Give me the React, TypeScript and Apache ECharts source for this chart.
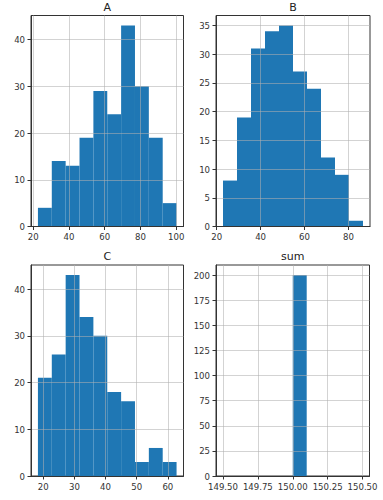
import React, { useEffect, useRef } from "react";
import * as echarts from "echarts";

// Histogram counts (10 bins each) and the data range they span
const A_COUNTS = [4, 14, 13, 19, 29, 24, 43, 30, 19, 5];
const A_RANGE = [22.6, 100.2];
const B_COUNTS = [8, 19, 31, 34, 35, 27, 24, 12, 9, 1];
const B_RANGE = [22.9, 86.6];
const C_COUNTS = [21, 26, 43, 34, 30, 18, 16, 3, 6, 3];
const C_RANGE = [18.3, 62.8];
const SUM_COUNTS = [0, 0, 0, 0, 0, 200, 0, 0, 0, 0];
const SUM_RANGE = [149.5, 150.5];

// Tick labels
const A_XTICKS = [20, 40, 60, 80, 100];
const A_YTICKS = [0, 10, 20, 30, 40];
const B_XTICKS = [20, 40, 60, 80];
const B_YTICKS = [0, 5, 10, 15, 20, 25, 30, 35];
const C_XTICKS = [20, 30, 40, 50, 60];
const C_YTICKS = [0, 10, 20, 30, 40];
const SUM_XTICKS = [149.5, 149.75, 150.0, 150.25, 150.5];
const SUM_YTICKS = [0, 25, 50, 75, 100, 125, 150, 175, 200];

const TITLES = ["A", "B", "C", "sum"];

function bins(counts: number[], range: number[]) {
  const w = (range[1] - range[0]) / counts.length;
  return counts.map((c, i) => [range[0] + i * w, range[0] + (i + 1) * w, c]);
}

function limits(range: number[], counts: number[]) {
  const span = range[1] - range[0];
  const maxC = Math.max(...counts);
  return {
    xmin: range[0] - span * 0.05,
    xmax: range[1] + span * 0.05,
    ymax: maxC * 1.05,
  };
}

export default function App() {
  const ref = useRef<HTMLDivElement>(null);
  useEffect(() => {
    if (!ref.current) return;
    const chart = echarts.init(ref.current, null, { renderer: "svg" });
    const panels = [
      { counts: A_COUNTS, range: A_RANGE, xt: A_XTICKS, yt: A_YTICKS, grid: { left: 31, top: 15.5, width: 152.5, height: 211 }, fmt: (v: number) => String(v) },
      { counts: B_COUNTS, range: B_RANGE, xt: B_XTICKS, yt: B_YTICKS, grid: { left: 216, top: 15.5, width: 154, height: 211 }, fmt: (v: number) => String(v) },
      { counts: C_COUNTS, range: C_RANGE, xt: C_XTICKS, yt: C_YTICKS, grid: { left: 31, top: 265, width: 152.5, height: 211 }, fmt: (v: number) => String(v) },
      { counts: SUM_COUNTS, range: SUM_RANGE, xt: SUM_XTICKS, yt: SUM_YTICKS, grid: { left: 216, top: 265, width: 153.5, height: 211 }, fmt: (v: number) => v.toFixed(2) },
    ];
    const gridLine = { show: true, lineStyle: { color: "#b0b0b0", width: 0.8, opacity: 0.7 } };
    const labelStyle = { color: "#333", fontSize: 9.5, fontFamily: "'DejaVu Sans Condensed', 'Liberation Sans', sans-serif" };
    const option: any = {
      animation: false,
      backgroundColor: "#fff",
      title: panels.map((p, i) => ({
        text: TITLES[i],
        left: p.grid.left + p.grid.width / 2,
        top: i < 2 ? 2 : 251,
        textAlign: "center",
        padding: 0,
        textStyle: { fontSize: 11, fontWeight: "normal", color: "#222", fontFamily: "DejaVu Sans" },
      })),
      grid: panels.map((p) => ({ ...p.grid, show: true, borderColor: "#333", borderWidth: 1, backgroundColor: "transparent" })),
      xAxis: panels.map((p, i) => {
        const l = limits(p.range, p.counts);
        return {
          type: "value",
          gridIndex: i,
          min: l.xmin,
          max: l.xmax,
          z: 5,
          axisLine: { show: true, onZero: false, lineStyle: { color: "#333", width: 1 } },
          axisTick: { show: true, length: 3.5, lineStyle: { color: "#333" }, customValues: p.xt },
          axisLabel: { ...labelStyle, margin: 5, customValues: p.xt, formatter: p.fmt },
          splitLine: gridLine,
        };
      }),
      yAxis: panels.map((p, i) => {
        const l = limits(p.range, p.counts);
        return {
          type: "value",
          gridIndex: i,
          min: 0,
          max: l.ymax,
          z: 5,
          axisLine: { show: true, lineStyle: { color: "#333", width: 1 } },
          axisTick: { show: true, length: 3.5, lineStyle: { color: "#333" }, customValues: p.yt },
          axisLabel: { ...labelStyle, margin: 6, customValues: p.yt },
          splitLine: gridLine,
        };
      }),
      series: panels.map((p, i) => ({
        type: "custom",
        xAxisIndex: i,
        yAxisIndex: i,
        z: 2,
        encode: { x: [0, 1], y: 2 },
        data: bins(p.counts, p.range),
        renderItem: (params: any, api: any) => {
          const p0 = api.coord([api.value(0), 0]);
          const p1 = api.coord([api.value(1), api.value(2)]);
          return {
            type: "rect",
            shape: { x: p0[0], y: p1[1], width: p1[0] - p0[0], height: p0[1] - p1[1] },
            style: { fill: "#1f77b4" },
          };
        },
      })),
    };
    chart.setOption(option);
    return () => chart.dispose();
  }, []);
  return (
    <div
      ref={ref}
      style={{ position: "fixed", left: 0, top: 0, width: 383, height: 500, background: "#fff" }}
    />
  );
}
